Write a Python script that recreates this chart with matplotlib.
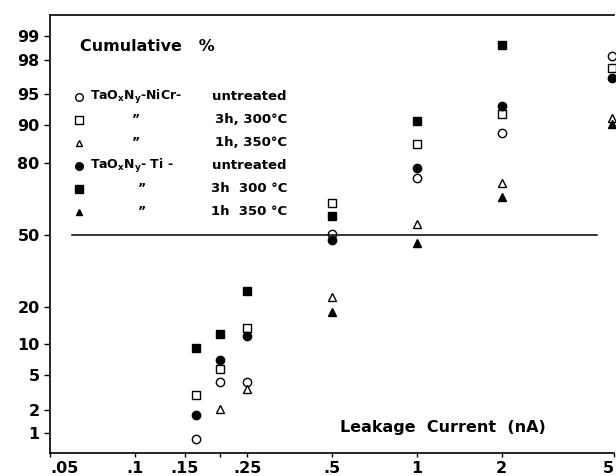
#!/usr/bin/env python

import matplotlib
matplotlib.use("Agg")
import matplotlib.pyplot as plt
import numpy as np
from matplotlib.ticker import FixedLocator, FixedFormatter, NullLocator
from statistics import NormalDist

plt.rcParams["font.family"] = ["DejaVu Sans"]
plt.rcParams["mathtext.default"] = "regular"

# leakage current (nA) and cumulative failure percentage per sample group
x_nicr_untreated = [0.165, 0.2, 0.25, 0.5, 1, 2, 4.9]
y_nicr_untreated = [0.84, 4.2, 4.2, 50.2, 74.8, 88.4, 98.2]
x_nicr_300 = [0.165, 0.2, 0.25, 0.5, 1, 2, 4.9]
y_nicr_300 = [3.0, 5.8, 13.8, 64.6, 85.7, 92.2, 97.5]
x_nicr_350 = [0.2, 0.25, 0.5, 1, 2, 4.9]
y_nicr_350 = [2.07, 3.55, 23.4, 55.1, 72.9, 91.5]
x_ti_untreated = [0.165, 0.2, 0.25, 0.5, 1, 2, 4.9]
y_ti_untreated = [1.74, 7.1, 11.8, 47.7, 78.4, 93.5, 96.7]
x_ti_300 = [0.165, 0.2, 0.25, 0.5, 1, 2]
y_ti_300 = [9.3, 12.3, 25.6, 58.8, 90.9, 98.7]
x_ti_350 = [0.5, 1, 2, 4.9]
y_ti_350 = [18.3, 46.3, 67.2, 90.3]

materials = ["TaO$_x$N$_y$-NiCr-", "\u201d", "\u201d", "TaO$_x$N$_y$- Ti -", "\u201d", "\u201d"]
treatments = ["untreated", "3h, 300\u00b0C", "1h, 350\u00b0C", "untreated", "3h  300 \u00b0C", "1h  350 \u00b0C"]

y_ticks = [1, 2, 5, 10, 20, 50, 80, 90, 95, 98, 99]
x_ticks = [0.05, 0.1, 0.15, 0.2, 0.25, 0.5, 1, 2, 5]
x_tick_labels = [".05", ".1", ".15", "", ".25", ".5", "1", "2", "5"]

nd = NormalDist()
_ppf = np.vectorize(nd.inv_cdf, otypes=[float])
_cdf = np.vectorize(nd.cdf, otypes=[float])


def probit(p):
  p = np.clip(np.asarray(p, dtype=float) / 100.0, 1e-9, 1 - 1e-9)
  return _ppf(p)


def inv_probit(z):
  return _cdf(np.asarray(z, dtype=float)) * 100.0


def graph_data(out):
  fig = plt.figure(figsize=(6.16, 4.76), dpi=100)
  ax = fig.add_axes([50 / 616, 23 / 476, 564 / 616, 438 / 476])

  ax.set_xscale("log")
  ax.set_yscale("function", functions=(probit, inv_probit))
  ax.set_xlim(0.05, 5)
  ax.set_ylim(0.53, 99.5)

  styles = [
    dict(marker="o", mfc="white"),
    dict(marker="s", mfc="white"),
    dict(marker="^", mfc="white"),
    dict(marker="o", mfc="black"),
    dict(marker="s", mfc="black"),
    dict(marker="^", mfc="black"),
  ]
  series = [
    (x_nicr_untreated, y_nicr_untreated),
    (x_nicr_300, y_nicr_300),
    (x_nicr_350, y_nicr_350),
    (x_ti_untreated, y_ti_untreated),
    (x_ti_300, y_ti_300),
    (x_ti_350, y_ti_350),
  ]
  for (xs, ys), st in zip(series, styles):
    ms = 5.2 if st["marker"] == "^" else 6.0
    ax.plot(xs, ys, ms=ms, mec="black", mew=1.0, linestyle="none",
            clip_on=False, **st)

  # 50 % reference line
  ax.plot([0.06, 4.35], [50, 50], color="black", lw=1.1)

  # key
  row_y = 0.813
  for i, st in enumerate(styles):
    ms = 5.0 if st["marker"] == "^" else 5.5
    fy = row_y - i * 0.0525
    ax.plot([0.051], [fy], transform=ax.transAxes, ms=ms, mec="black",
            mew=1.0, linestyle="none", **st)
    name = materials[i]
    nx = 0.071 if name != "\u201d" else (0.145 if i < 3 else 0.155)
    ax.text(nx, fy, name, transform=ax.transAxes, fontsize=9, fontweight="bold",
            ha="left", va="center")
    ax.text(0.420, fy, treatments[i], transform=ax.transAxes, fontsize=9.5,
            fontweight="bold", ha="right", va="center")

  ax.text(0.053, 0.927, "Cumulative   %", transform=ax.transAxes, fontsize=11.5,
          fontweight="bold", ha="left", va="center")
  ax.text(0.514, 0.059, "Leakage  Current  (nA)", transform=ax.transAxes,
          fontsize=11.5, fontweight="bold", ha="left", va="center")

  ax.yaxis.set_major_locator(FixedLocator(y_ticks))
  ax.yaxis.set_major_formatter(FixedFormatter([str(t) for t in y_ticks]))
  ax.yaxis.set_minor_locator(NullLocator())
  ax.xaxis.set_major_locator(FixedLocator(x_ticks))
  ax.xaxis.set_major_formatter(FixedFormatter(x_tick_labels))
  ax.xaxis.set_minor_locator(NullLocator())

  ax.tick_params(axis="y", direction="out", length=4.5, width=1.0, pad=3,
                 labelsize=11.5)
  ax.tick_params(axis="x", direction="out", length=3, width=1.0, pad=3,
                 labelsize=11.5)
  for lab in ax.get_xticklabels() + ax.get_yticklabels():
    lab.set_fontweight("bold")
  xlabs = ax.get_xticklabels()
  xlabs[0].set_ha("left")
  xlabs[-1].set_ha("right")

  for side in ["left", "bottom", "top"]:
    ax.spines[side].set_linewidth(1.2)
  ax.spines["right"].set_visible(False)

  fig.savefig(out, dpi=100)


if __name__ == "__main__":
  graph_data("out.png")
